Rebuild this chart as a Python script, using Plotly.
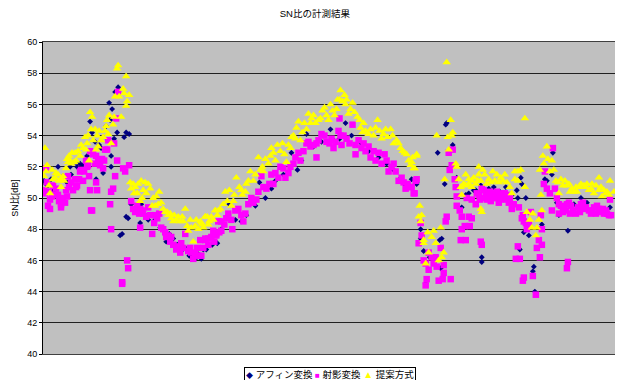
import plotly.graph_objects as go

title_text = "SN比の計測結果"
y_title = "SN比[dB]"
names = ["アフィン変換", "射影変換", "提案方式"]

affine_frame = [1,3,8,15,27,28,32,37,40,47,49,52,53,58,60,63,66,67,68,68,69,71,72,75,74,81,83,86,83,85,77,79,
88,98,97,105,109,117,123,130,138,146,152,158,163,169,174,186,203,212,216,232,240,243,248,263,287,290,302,318,343,373,
368,373,377,377,398,396,403,402,394,409,401,413,438,438,418,422,425,432,437,450,462,473,477,478,482,474,480,485,498,476,490,489,491,382,501,503,508,513,515,524,537,543,553,397,509,
5,11,20,24,34,44,56,92,102,112,120,126,134,142,155,160,166,178,192,198,222,228,254,258,270,278,296,308,325,335,350,356,362,380,386,392,430,445,456,468,520,530,548,560,566]
affine_db = [51.1,50.9,51.2,52.0,52.0,51.5,52.3,52.2,52.1,54.9,54.2,53.6,51.2,53.2,51.6,54.6,56.1,55.0,52.7,52.0,55.7,53.8,56.8,57.1,54.2,53.9,54.2,54.1,48.8,48.7,47.6,47.7,
49.6,49.6,48.4,48.6,47.7,48.1,47.2,47.4,46.6,46.3,46.1,46.1,46.7,47.0,47.1,49.6,48.9,49.5,51.0,51.1,51.5,51.5,52.9,54.1,54.4,53.7,54.8,53.5,52.2,51.0,
51.2,50.9,48.0,47.4,47.4,47.3,54.8,54.7,52.9,53.4,50.9,51.3,46.2,45.9,49.4,50.2,50.3,50.5,50.8,50.7,50.7,50.5,51.3,50.9,50.0,50.0,47.8,47.6,48.3,46.7,45.6,45.3,44.0,44.5,51.2,51.1,51.5,49.7,48.9,47.9,50.0,49.7,49.4,45.5,52.9,
50.8,50.5,51.4,51.0,52.0,52.7,53.4,49.2,48.9,48.6,48.0,47.7,47.0,46.8,46.4,46.7,47.0,48.0,48.6,48.5,50.0,50.6,51.8,52.4,53.3,53.6,53.8,54.0,53.0,52.6,51.8,51.2,50.8,46.6,46.2,46.0,50.5,50.6,50.4,50.2,49.4,49.6,49.2,49.2,49.4]

projective_frame = [1,2,3,4,7,5,7,10,12,15,16,18,18,22,23,26,25,30,32,34,37,38,40,43,44,46,47,48,49,47,52,53,53,54,57,60,59,62,64,65,67,68,68,70,71,72,74,73,75,80,82,86,84,85,79,79,
88,92,94,97,100,105,103,97,109,112,116,118,122,125,128,133,137,142,138,145,148,150,155,157,162,165,170,173,175,
158,162,168,173,178,178,185,188,189,195,198,200,205,208,215,218,223,228,230,237,242,247,252,257,263,267,273,273,278,283,290,296,298,297,303,309,312,312,315,322,327,332,338,345,350,355,362,370,373,
160,165,171,176,181,183,192,202,210,213,220,226,232,235,240,245,250,255,260,265,270,275,281,286,288,292,295,300,306,318,320,325,330,335,341,343,348,352,358,360,364,367,
372,368,371,377,375,378,403,402,380,382,385,388,392,397,390,385,393,400,383,382,395,399,400,407,405,409,406,408,411,412,413,413,416,418,418,421,426,425,428,417,422,437,438,423,428,432,435,438,442,445,448,452,455,458,462,465,468,475,478,482,483,487,497,498,495,493,498,474,472,476,496,480,479,489,492,501,500,503,506,511,513,515,508,509,517,520,523,527,526,532,537,540,545,548,553,557,560,563,566,524,523,
515,519,522,525,529,534,536,539,542,547,550,552,555,559,562,565,567,440,443,446,449,453,456,459,463,466,470,480,485,479,
6,9,13,20,24,28,33,36,41,45,50,55,61,90,96,99,107,111,114,120,123,127,130,135,140,147,152,154,433,436,441,447,451,457,461,464]
projective_db = [50.5,50.3,51.9,51.0,49.9,49.5,49.3,50.8,50.2,50.2,49.8,49.6,49.4,49.7,50.5,50.7,51.4,50.5,51.2,50.8,51.7,51.8,51.1,52.4,52.0,51.4,50.5,49.2,49.2,53.0,52.2,52.7,51.0,50.5,52.1,51.9,52.5,53.1,53.1,53.7,49.6,48.0,50.4,50.6,53.5,51.4,52.4,55.1,56.8,51.9,51.7,52.1,46.0,45.5,44.6,44.5,
49.8,49.1,49.5,49.3,49.0,49.4,48.8,48.1,47.7,48.9,49.0,48.1,47.8,47.6,47.5,46.7,46.5,47.7,47.1,46.6,46.5,46.1,46.3,47.3,47.4,47.4,47.9,47.6,48.5,
46.3,47.3,47.5,47.7,48.5,47.9,49.0,48.6,48.0,49.3,48.9,48.5,49.6,50.0,50.4,51.4,50.6,51.5,50.9,52.0,51.3,52.0,52.6,52.4,53.5,53.3,52.6,53.5,54.1,53.6,53.2,55.1,53.4,54.0,53.8,54.7,53.4,52.8,53.7,53.0,52.6,52.4,52.2,51.7,52.2,51.1,50.6,50.3,51.2,
46.8,47.0,47.2,47.8,48.3,48.7,49.2,49.0,49.7,49.9,50.7,50.9,51.6,51.3,51.9,51.6,52.2,52.9,53.0,53.6,53.4,53.7,54.0,53.5,53.8,53.6,54.3,54.0,53.5,53.2,53.5,53.3,53.0,52.9,52.8,52.4,52.0,51.7,51.3,51.0,50.9,50.7,
51.1,50.7,50.3,48.4,47.1,47.6,48.8,48.5,46.0,45.8,46.5,46.2,46.2,46.8,45.8,45.4,45.6,45.7,44.8,44.4,44.7,44.8,45.2,44.8,52.9,53.1,51.8,52.1,51.2,50.7,50.1,49.5,49.2,48.8,48.0,48.2,48.2,48.8,48.7,47.3,47.3,47.2,47.0,50.0,49.9,49.6,50.2,50.6,50.2,50.1,50.3,50.1,49.7,50.3,50.1,49.7,49.3,49.4,48.7,48.4,48.0,49.1,48.9,48.0,47.3,46.8,47.0,46.9,46.1,46.1,46.2,44.9,44.7,45.0,43.8,51.7,50.9,50.6,50.3,50.6,50.0,49.0,49.2,53.2,49.5,49.4,49.6,49.5,49.0,49.0,49.6,49.3,49.2,49.2,49.5,49.1,49.0,49.0,49.9,45.9,45.5,
49.6,49.1,49.2,49.7,49.2,49.4,49.1,49.7,49.4,49.0,49.4,49.0,49.3,49.3,49.2,48.9,48.9,50.5,49.9,50.4,50.0,50.4,50.0,50.0,49.9,50.0,49.6,48.5,48.3,48.9,
50.4,50.1,50.6,50.0,50.1,51.0,50.7,51.2,51.7,52.1,52.8,52.4,52.4,49.3,49.0,49.2,48.9,48.4,48.7,48.0,47.5,47.2,47.0,46.9,46.8,46.8,46.4,46.8,50.3,49.9,50.0,49.8,50.0,49.9,50.3,50.2]

proposed_frame = [2,4,1,6,7,9,12,15,18,18,21,23,25,26,28,31,32,37,38,42,44,47,49,46,52,53,56,58,62,63,66,64,68,70,71,72,74,75,76,78,80,81,83,86,84,83,
87,90,92,94,97,98,100,102,103,107,109,112,113,116,118,122,125,128,131,133,137,140,142,145,148,150,153,157,160,162,165,168,172,175,
158,162,166,172,177,182,186,188,191,193,196,199,203,207,210,215,217,222,225,228,232,234,237,239,243,247,250,253,257,261,265,268,272,275,279,283,287,291,294,297,301,302,305,309,314,317,320,325,330,334,338,342,347,350,357,361,365,370,373,
202,205,212,219,220,227,230,241,245,248,252,255,259,263,267,270,277,281,285,289,293,296,299,303,307,311,316,319,322,327,332,336,340,344,349,353,355,359,363,367,369,
368,373,371,376,378,375,377,380,384,390,397,388,392,380,385,400,398,395,382,403,393,404,407,409,408,405,412,413,401,415,417,418,422,425,428,422,425,432,435,435,439,441,443,447,449,453,455,457,461,463,468,471,474,477,474,481,481,483,486,489,493,488,495,498,492,437,438,496,500,503,499,504,508,510,497,512,515,517,521,523,526,530,533,537,542,547,550,552,555,557,558,562,566,565,
528,535,540,545,560,563,555,548,519,445,451,459,466,570,
3,10,13,16,20,24,27,29,33,35,40,43,45,48,50,54,55,60,65,88,91,95,99,105,110,115,120,124,127,130,135,139,144,147,152,155,159,164,170,174,180,184,190,198,430,420,428,434,437,471,506,514,525,532,543]
proposed_db = [53.2,52.1,51.4,50.8,50.3,51.8,51.3,51.5,51.2,50.7,51.1,51.9,52.3,52.7,52.2,52.3,52.9,52.7,53.4,53.9,53.5,55.5,55.2,52.4,54.4,53.1,54.3,53.7,54.3,54.6,55.3,55.0,53.5,54.7,55.2,56.5,58.3,58.5,56.5,55.2,57.0,56.7,57.8,56.6,56.2,55.9,
51.0,50.9,50.7,50.3,49.8,51.1,50.5,51.0,50.3,50.6,49.5,49.5,50.1,50.4,49.7,49.1,48.9,48.7,48.9,48.6,48.5,48.5,49.3,47.9,48.1,47.2,48.6,48.5,48.1,48.8,48.3,48.8,49.2,49.2,
48.4,48.8,48.5,49.2,49.3,50.4,50.5,49.5,50.2,51.3,50.7,50.2,50.9,51.7,51.1,52.6,51.8,52.5,52.2,53.2,52.4,53.4,53.0,53.5,52.3,53.2,54.0,54.5,53.7,54.8,55.4,55.1,54.8,55.0,55.6,55.3,56.0,55.3,56.3,56.9,56.6,56.0,55.4,56.1,55.2,54.5,54.8,54.1,54.0,55.0,53.8,54.4,54.4,53.5,53.2,52.9,52.4,51.9,52.8,
50.4,51.1,51.5,52.0,51.7,52.7,52.9,52.8,53.4,53.9,53.8,54.9,54.2,54.4,54.8,55.3,55.1,55.8,55.0,55.6,55.7,56.3,56.2,56.3,55.7,55.5,55.0,54.2,54.3,54.4,54.5,54.3,54.1,53.9,54.0,53.7,53.5,53.0,52.8,52.1,52.6,
52.3,52.7,51.9,49.5,48.9,48.8,48.5,47.3,47.8,47.9,48.1,47.5,47.1,47.1,46.5,46.5,46.2,46.0,45.8,58.7,54.0,53.9,55.0,54.2,54.0,53.1,52.2,52.0,51.2,51.2,50.7,50.2,51.5,51.2,51.1,50.8,50.9,50.9,52.0,51.5,51.8,51.5,50.9,51.0,51.7,51.5,51.0,51.3,51.5,51.0,50.3,51.7,51.7,51.8,51.1,55.1,50.7,49.1,48.6,49.0,48.1,48.1,48.6,49.2,47.6,49.3,49.1,51.8,52.2,53.3,52.7,52.5,52.4,51.8,50.2,51.1,50.3,51.2,51.1,50.8,50.4,50.4,50.4,50.9,50.7,50.6,50.3,50.8,51.3,50.7,50.1,50.3,51.1,50.2,
50.6,50.7,50.8,50.5,50.5,50.4,50.5,50.9,50.8,51.2,51.1,51.1,50.7,50.4,
51.7,51.2,51.6,51.1,51.4,52.5,52.4,52.9,52.4,53.0,53.2,53.1,54.0,54.4,53.7,54.0,53.3,53.9,54.1,50.6,50.3,50.9,50.0,50.9,50.0,49.6,49.3,49.1,49.0,48.5,48.8,48.8,48.2,48.6,48.2,48.0,48.3,48.8,48.6,48.9,49.6,49.8,49.8,50.5,51.3,50.9,50.7,51.1,51.1,51.2,51.7,51.0,50.9,50.7,50.9]

series = [
    (names[0], affine_frame, affine_db, "#000080", "diamond", 4.5),
    (names[1], projective_frame, projective_db, "#ff00ff", "square", 6.5),
    (names[2], proposed_frame, proposed_db, "#ffff00", "triangle-up", 7.5),
]

fig = go.Figure()
for name, xs, ys, color, symbol, size in series:
    fig.add_trace(go.Scatter(x=xs, y=ys, mode="markers", name=name, showlegend=False,
                             marker=dict(color=color, symbol=symbol, size=size, line=dict(width=0))))

legend_text = (f'<span style="color:#000080;font-size:7px">◆</span> {names[0]} '
               f'<span style="color:#ff00ff;font-size:8px">■</span> {names[1]} '
               f'<span style="color:#ffff00;font-size:10px">▲</span> {names[2]}')

fig.update_layout(
    width=615, height=372, autosize=False,
    margin=dict(l=35, r=6, t=34, b=26, autoexpand=False),
    paper_bgcolor="white", plot_bgcolor="#c0c0c0",
    font=dict(family="Liberation Sans, Noto Sans CJK JP", size=9, color="black"),
    title=dict(text=title_text, x=0.499, xanchor="center", y=0.984, yanchor="middle",
               font=dict(size=9.5, color="black")),
    annotations=[dict(text=legend_text, xref="paper", yref="paper", x=0.5, y=-0.042,
                      xanchor="center", yanchor="top", showarrow=False,
                      bordercolor="black", borderwidth=1, borderpad=1, bgcolor="white",
                      font=dict(size=9.5, color="black"))],
    showlegend=False,
)
fig.update_xaxes(range=[0, 573], showticklabels=False, ticks="", showgrid=False,
                 zeroline=False, showline=True, linecolor="#404040", linewidth=1, mirror=True)
fig.update_yaxes(range=[40, 60], dtick=2, ticks="outside", ticklen=3, tickcolor="black",
                 showgrid=True, gridcolor="#202020", gridwidth=1, zeroline=False,
                 showline=True, linecolor="black", linewidth=1,
                 title=dict(text=y_title, standoff=7, font=dict(size=9)),
                 tickfont=dict(size=9))

fig.write_html("out.html")
